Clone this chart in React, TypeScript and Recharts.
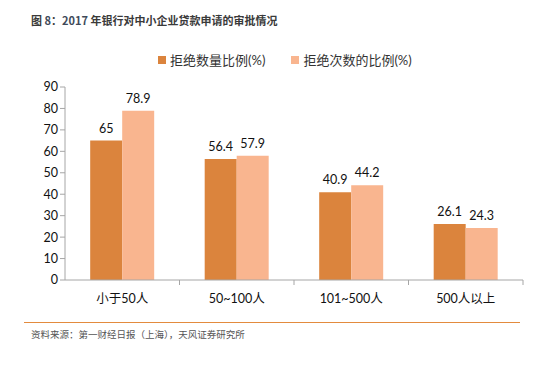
import React from 'react';
import { BarChart, Bar, XAxis, YAxis, LabelList } from 'recharts';

const categories = ['小于50人', '50~100人', '101~500人', '500人以上'];
const rejectCount = [65, 56.4, 40.9, 26.1];
const rejectTimes = [78.9, 57.9, 44.2, 24.3];
const yTicks = [0, 10, 20, 30, 40, 50, 60, 70, 80, 90];

const seriesA = '拒绝数量比例(%)';
const seriesB = '拒绝次数的比例(%)';

const data = categories.map((c, i) => ({ name: c, a: rejectCount[i], b: rejectTimes[i] }));

const DARK = '#DB843D';
const LIGHT = '#F9B58F';
const AXIS = '#A6A6A6';
const FONT = "Lato, 'Noto Sans CJK SC', sans-serif";

function CatTick(props: any) {
  const { x, y, payload } = props;
  const band = 114.5;
  return (
    <g>
      <line x1={x + band / 2} y1={y - 8} x2={x + band / 2} y2={y - 3} stroke={AXIS} />
      <text x={x} y={y + 15} textAnchor="middle" fontSize={12.5} fill="#111" fontFamily={FONT}>
        {payload.value}
      </text>
    </g>
  );
}

function LegendBox() {
  const items = [
    { label: seriesA, color: DARK },
    { label: seriesB, color: LIGHT },
  ];
  return (
    <div style={{ display: 'flex', gap: 26, fontFamily: FONT, fontSize: 13, color: '#333' }}>
      {items.map((it) => (
        <div key={it.label} style={{ display: 'flex', alignItems: 'center' }}>
          <span style={{ width: 8, height: 8, background: it.color, marginRight: 4, display: 'inline-block' }} />
          {it.label}
        </div>
      ))}
    </div>
  );
}

export default function App() {
  return (
    <div style={{ position: 'absolute', left: 0, top: 0, width: 547, height: 366, background: '#fff' }}>
      <div
        style={{
          position: 'absolute',
          left: 31,
          top: 12,
          fontFamily: "'Noto Sans CJK SC', sans-serif",
          fontWeight: 700,
          fontSize: 11,
          color: '#3a3a3a',
          whiteSpace: 'nowrap',
        }}
      >
        图 <span style={{ color: '#404a5a' }}>8</span>：<span style={{ color: '#404a5a' }}>2017</span> 年银行对中小企业贷款申请的审批情况
      </div>
      <div style={{ position: 'absolute', left: 158, top: 50, zIndex: 1 }}>
        <LegendBox />
      </div>
      <BarChart
        width={547}
        height={366}
        data={data}
        margin={{ top: 87, right: 24, bottom: 56, left: 0 }}
        barCategoryGap="22%"
        barGap={0}
      >
        <XAxis
          dataKey="name"
          height={30}
          axisLine={{ stroke: AXIS }}
          tickLine={false}
          tick={<CatTick />}
          interval={0}
        />
        <YAxis
          width={65}
          domain={[0, 90]}
          ticks={yTicks}
          interval={0}
          axisLine={{ stroke: AXIS }}
          tickLine={{ stroke: AXIS }}
          tickSize={5}
          tick={{ fontSize: 12.5, fill: '#111', fontFamily: FONT }}
        />
        <Bar dataKey="a" name={seriesA} fill={DARK} isAnimationActive={false}>
          <LabelList dataKey="a" position="top" offset={8} style={{ fontSize: 12.5, fill: '#111', fontFamily: FONT }} />
        </Bar>
        <Bar dataKey="b" name={seriesB} fill={LIGHT} isAnimationActive={false}>
          <LabelList dataKey="b" position="top" offset={8} style={{ fontSize: 12.5, fill: '#111', fontFamily: FONT }} />
        </Bar>
      </BarChart>
      <div style={{ position: 'absolute', left: 24, top: 322, width: 496, height: 1, background: '#E38B3E' }} />
      <div
        style={{
          position: 'absolute',
          left: 31,
          top: 327,
          fontFamily: "'Noto Sans CJK SC', sans-serif",
          fontSize: 9.5,
          color: '#555',
          whiteSpace: 'nowrap',
        }}
      >
        资料来源：第一财经日报（上海），天风证券研究所
      </div>
    </div>
  );
}
